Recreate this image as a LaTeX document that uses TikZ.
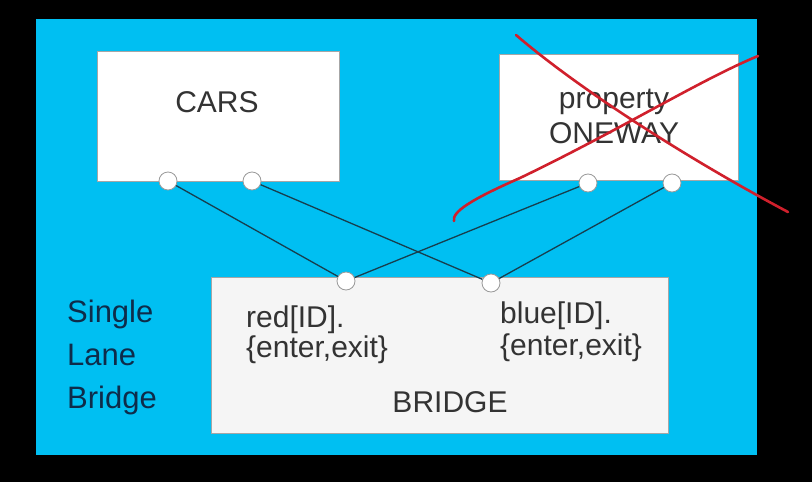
\documentclass[tikz,border=0pt]{standalone}
\usepackage{fontspec}
\setmainfont{Liberation Sans}
\definecolor{bgcyan}{HTML}{00BFF2}
\definecolor{txt}{HTML}{333333}
\definecolor{navy}{HTML}{0E2C4A}
\definecolor{wire}{HTML}{173E4E}
\definecolor{pen}{HTML}{D0202C}
\tikzset{
  box/.style={draw=gray!70, line width=0.6pt, fill=white, inner sep=0pt, anchor=north west},
  port/.style={circle, draw=gray!80, line width=0.8pt, fill=white, minimum size=18pt, inner sep=0pt},
  conn/.style={draw=wire, line width=1.3pt},
  lbl/.style={text=txt, font=\fontsize{30}{30}\selectfont, align=left, inner sep=0pt},
  side/.style={text=navy, font=\fontsize{31}{43}\selectfont, align=left, inner sep=0pt, anchor=base west},
  redx/.style={draw=pen, line width=2.6pt, line cap=round}
}
\begin{document}
\begin{tikzpicture}[x=1pt,y=-1pt]
\useasboundingbox (0,0) rectangle (812,482);
\fill[black] (0,0) rectangle (812,482);
\fill[bgcyan] (36,19) rectangle (757,455);
% boxes
\node[box, minimum width=242pt, minimum height=130pt] (cars) at (97,51) {};
\node[box, minimum width=239pt, minimum height=126pt] (prop) at (499,54) {};
\node[box, fill=gray!8, minimum width=457pt, minimum height=156pt] (bridge) at (211,277) {};
% texts
\node[lbl, anchor=base] (carst) at (217,112) {CARS};
\node[lbl, align=center, anchor=base, font=\fontsize{30}{35}\selectfont] (propt) at (614,143) {property\\ONEWAY};
\node[lbl, anchor=base west] (redt) at (246,357) {red[ID].\\\{enter,exit\}};
\node[lbl, anchor=base west, font=\fontsize{30}{32}\selectfont] (bluet) at (500,355) {blue[ID].\\\{enter,exit\}};
\node[lbl, anchor=base] (bt) at (450,412) {BRIDGE};
\node[side] (slb) at (67,408) {Single\\Lane\\Bridge};
% ports
\node[port] (c1) at (168,181) {};
\node[port] (c2) at (252,181) {};
\node[port] (p1) at (588,183) {};
\node[port] (p2) at (672,183) {};
\node[port] (b1) at (346,281) {};
\node[port] (b2) at (491,283) {};
% connectors
\draw[conn] (c1) -- (b1);
\draw[conn] (c2) -- (b2);
\draw[conn] (p1) -- (b1);
\draw[conn] (p2) -- (b2);
% red cross
\draw[redx] (516,35) .. controls (580,90) and (690,160) .. (788,212);
\draw[redx] (454,221) .. controls (452,212) and (470,200) .. (520,178) .. controls (620,130) and (700,80) .. (758,56);
\end{tikzpicture}
\end{document}
